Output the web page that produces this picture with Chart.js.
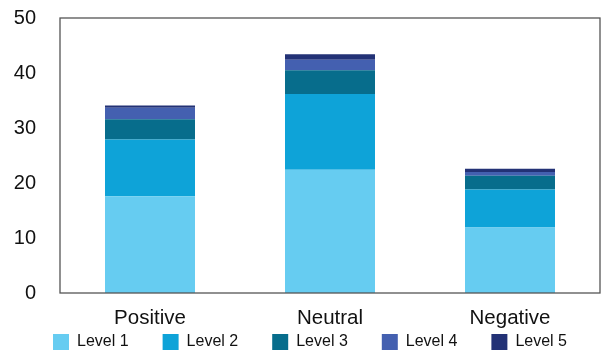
<!DOCTYPE html>
<html>
<head>
<meta charset="utf-8">
<script src="https://cdn.jsdelivr.net/npm/chart.js@4/dist/chart.umd.min.js"></script>
<style>
  html, body { margin: 0; padding: 0; background: #ffffff; }
  #wrap { width: 602px; height: 353px; }
</style>
</head>
<body>
<div id="wrap"><canvas id="c"></canvas></div>
<script>
// Sentiment categories and stacked level values
const categories = ['Positive', 'Neutral', 'Negative'];
const levelNames = ['Level 1', 'Level 2', 'Level 3', 'Level 4', 'Level 5'];
const level1 = [17.6, 22.4, 11.9];
const level2 = [10.3, 13.8, 6.9];
const level3 = [3.7, 4.3, 2.5];
const level4 = [2.1, 1.9, 0.7];
const level5 = [0.4, 1.0, 0.6];
const yTicks = [0, 10, 20, 30, 40, 50];

const levelColors = ['#66ccf1', '#0ea3d8', '#076d8c', '#4460b0', '#233276'];
const levelValues = [level1, level2, level3, level4, level5];

const FONT = 'Liberation Sans, Arial, Helvetica, sans-serif';
const LEGEND_GAP = 34;       // horizontal space between legend entries
const LEGEND_HEIGHT = 14;    // vertical room reserved for the legend row
const LEGEND_ROW_TOP = 334;  // y where the legend row is drawn
const LEGEND_SHIFT_X = 10;   // nudge of the legend row to the right
const Y_AXIS_WIDTH = 60;     // room for the value labels left of the plot
const X_AXIS_HEIGHT = 46;    // room for the category labels under the plot

// Draws a box around the plotting area
const frameBox = {
  id: 'frameBox',
  afterDraw(chart) {
    const { ctx, chartArea: a } = chart;
    ctx.save();
    ctx.strokeStyle = '#555555';
    ctx.lineWidth = 1.3;
    ctx.strokeRect(a.left, a.top, a.right - a.left, a.bottom - a.top);
    ctx.restore();
  }
};

// Keeps the legend row compact: wide horizontal gaps but a short box
const compactLegend = {
  id: 'compactLegend',
  afterInit(chart) {
    const legend = chart.legend;
    if (!legend) return;
    const fit = legend.fit;
    legend.fit = function () {
      fit.call(this);
      this.height = LEGEND_HEIGHT;
    };
    const draw = legend.draw;
    legend.draw = function (area) {
      const saved = { top: this.top, left: this.left, right: this.right };
      this.top = LEGEND_ROW_TOP - this.options.labels.padding;
      this.left += LEGEND_SHIFT_X;
      this.right += LEGEND_SHIFT_X;
      draw.call(this, area);
      Object.assign(this, saved);
    };
  }
};

new Chart(document.getElementById('c'), {
  type: 'bar',
  data: {
    labels: categories,
    datasets: levelNames.map((name, i) => ({
      label: name,
      data: levelValues[i],
      backgroundColor: levelColors[i],
      borderWidth: 0,
      barPercentage: 0.5,
      categoryPercentage: 1.0
    }))
  },
  options: {
    responsive: true,
    maintainAspectRatio: false,
    animation: false,
    layout: { padding: { left: 0, right: 2, top: 18, bottom: 0 } },
    plugins: {
      legend: {
        position: 'bottom',
        labels: {
          color: '#111111',
          font: { family: FONT, size: 16 },
          boxWidth: 16,
          boxHeight: 16,
          padding: LEGEND_GAP
        }
      },
      tooltip: { enabled: false }
    },
    scales: {
      x: {
        stacked: true,
        afterFit(scale) {
          scale.height = X_AXIS_HEIGHT;
          scale.paddingLeft = 0;
          scale.paddingRight = 0;
        },
        grid: { display: false, drawTicks: false },
        border: { display: false },
        ticks: {
          color: '#111111',
          padding: 15,
          font: { family: FONT, size: 20.5, lineHeight: 1.0 }
        }
      },
      y: {
        stacked: true,
        min: 0,
        max: 50,
        afterBuildTicks(scale) {
          scale.ticks = yTicks.map(v => ({ value: v }));
        },
        afterFit(scale) {
          scale.width = Y_AXIS_WIDTH;
          // label overhang is covered by the layout padding
          scale.paddingTop = 0;
          scale.paddingBottom = 0;
        },
        grid: { display: false, drawTicks: false },
        border: { display: false },
        ticks: {
          color: '#111111',
          padding: 24,
          font: { family: FONT, size: 20 }
        }
      }
    }
  },
  plugins: [frameBox, compactLegend]
});
</script>
</body>
</html>
